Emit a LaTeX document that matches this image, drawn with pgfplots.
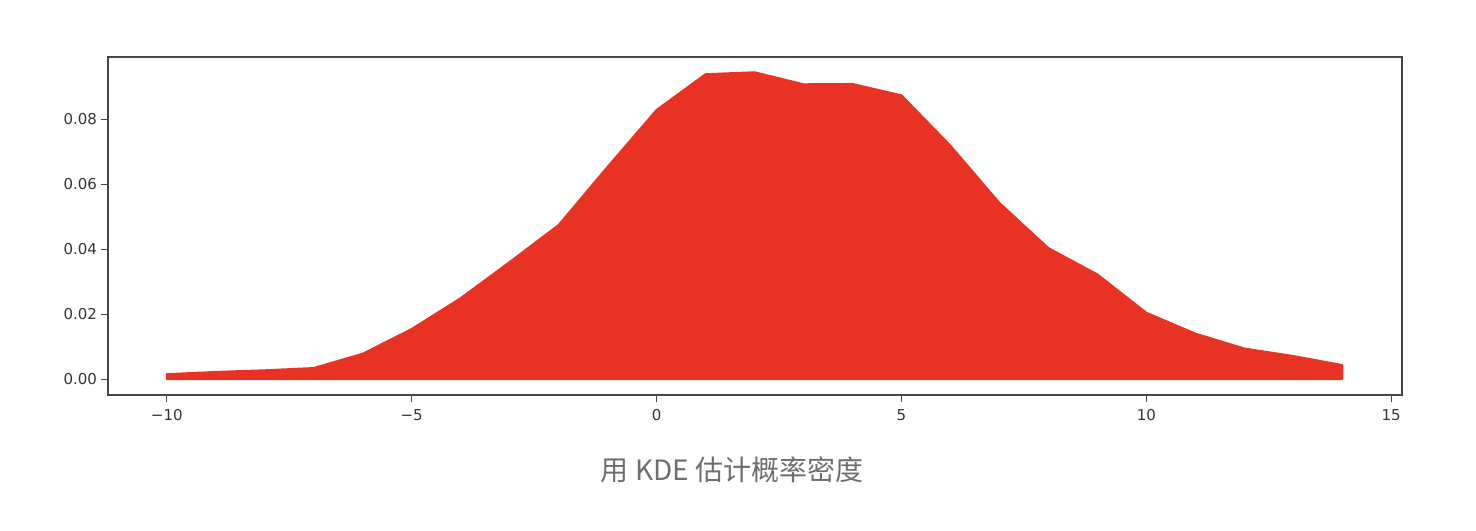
\documentclass[border=0pt]{standalone}
\usepackage{pgfplots}
\pgfplotsset{compat=1.18}
\usepackage{fontspec}
\setmainfont{DejaVu Sans}
\newfontfamily\cjk{Noto Sans CJK SC}
\definecolor{kdered}{RGB}{232,50,35}
\definecolor{framegray}{RGB}{70,70,70}
\definecolor{capgray}{RGB}{110,110,110}
\begin{document}
\begin{tikzpicture}
  \begin{axis}[
    at={(0,0)}, anchor=south west,
    scale only axis,
    width=647pt, height=169pt,
    xmin=-11.2, xmax=15.22,
    ymin=-0.0049, ymax=0.0991,
    xtick={-10,-5,0,5,10,15},
    xticklabels={−10,−5,0,5,10,15},
    ytick={0,0.02,0.04,0.06,0.08},
    yticklabel style={/pgf/number format/fixed, /pgf/number format/fixed zerofill, /pgf/number format/precision=2, xshift=1.5pt},
    /pgf/number format/assume math mode=true,
    every tick label/.append style={font=\fontsize{7.5}{9}\selectfont, text=black!80},
    tick align=outside, tick pos=left,
    major tick length=3.5pt,
    every tick/.style={framegray, line width=0.5pt},
    axis line style={framegray, line width=0.6pt},
    scaled y ticks=false,
  ]
    \addplot[fill=kdered, draw=kdered, line width=1pt, line join=round] coordinates {
      (-10, 0.0015) (-9, 0.0022) (-8, 0.0027) (-7, 0.0034) (-6, 0.0078)
      (-5, 0.0154) (-4, 0.0249) (-3, 0.0360) (-2, 0.0474) (-1, 0.0653)
      (0, 0.0828) (1, 0.0938) (2, 0.0944) (3, 0.0907) (4, 0.0908)
      (5, 0.0873) (6, 0.0718) (7, 0.0542) (8, 0.0403) (9, 0.0322)
      (10, 0.0204) (11, 0.0140) (12, 0.0094) (13, 0.0071) (14, 0.0043)
      (14, 0) (-10, 0)
    } -- cycle;
  \end{axis}
  \node[text=capgray, font=\fontsize{14}{16}\selectfont] at (312pt,-37.5pt) {\cjk 用 KDE 估计概率密度};
  \path[use as bounding box] (-54pt,-67.5pt) rectangle (684pt,197.5pt);
\end{tikzpicture}
\end{document}
